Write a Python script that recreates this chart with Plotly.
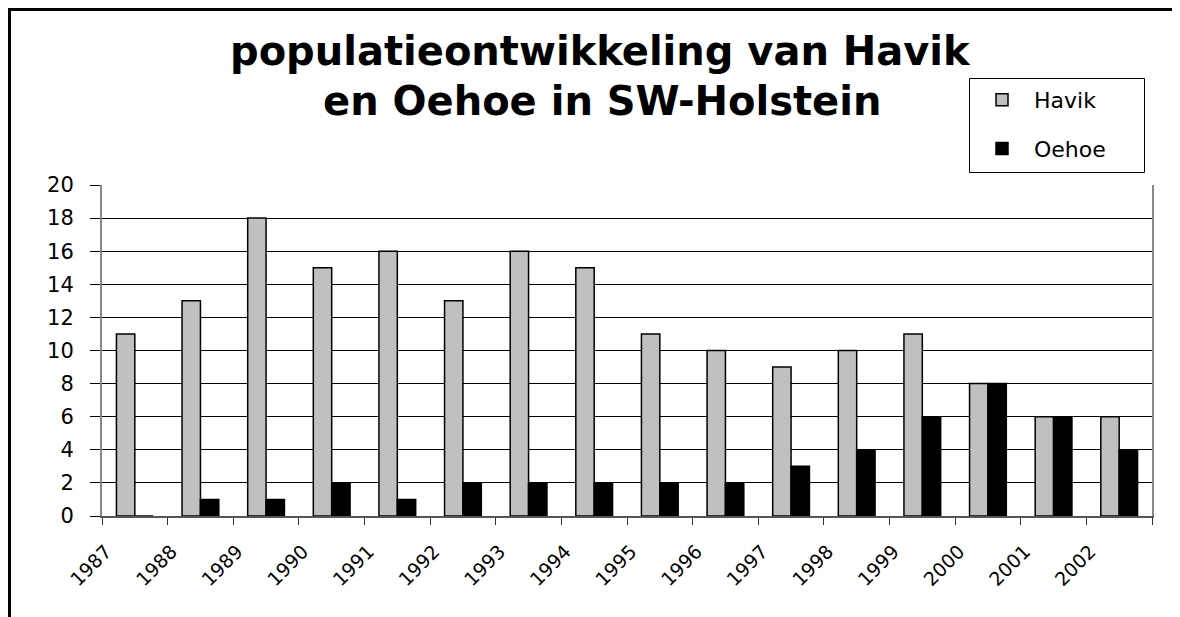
import plotly.graph_objects as go

years = ["1987", "1988", "1989", "1990", "1991", "1992", "1993", "1994",
         "1995", "1996", "1997", "1998", "1999", "2000", "2001", "2002"]
havik = [11, 13, 18, 15, 16, 13, 16, 15, 11, 10, 9, 10, 11, 8, 6, 6]
oehoe = [0, 1, 1, 2, 1, 2, 2, 2, 2, 2, 3, 4, 6, 8, 6, 4]

title_line1 = "populatieontwikkeling van Havik"
title_line2 = "en Oehoe in SW-Holstein"

pos = list(range(len(years)))
tick_pos = [p - 0.5 for p in pos] + [len(years) - 0.5]
tick_txt = years + [""]

FONT = "DejaVu Sans, Liberation Sans, Arial, sans-serif"

fig = go.Figure()
fig.add_trace(go.Bar(x=pos, y=havik, name="Havik", legendgroup="a",
                     marker=dict(color="#c0c0c0", line=dict(color="#000000", width=1.5))))
fig.add_trace(go.Bar(x=pos, y=oehoe, name="Oehoe", legendgroup="b",
                     marker=dict(color="#000000", line=dict(color="#000000", width=1.5))))

# page body has an 8px margin; figure is sized to end at the window edge
OFF = 8
W, H = 1180 - OFF, 617 - OFF
L, R, T, B = 102 - OFF, 28, 185 - OFF, 101
pw, ph = W - L - R, H - T - B

def px(x):  # screen x -> paper
    return (x - OFF - L) / pw

def py(y):  # screen y -> paper
    return (H - B - (y - OFF)) / ph

fig.update_layout(
    width=W, height=H,
    margin=dict(l=L, r=R, t=T, b=B),
    paper_bgcolor="white", plot_bgcolor="white",
    barmode="group", bargap=0.44, bargroupgap=0,
    font=dict(family=FONT, color="black"),
    showlegend=True,
    legend=dict(x=px(970), y=py(79), xanchor="left", yanchor="top",
                borderwidth=0, bgcolor="rgba(0,0,0,0)",
                font=dict(size=22, family=FONT),
                itemwidth=54,
                traceorder="grouped", tracegroupgap=17),
    xaxis=dict(range=[-0.5, len(years) - 0.5], tickmode="array",
               tickvals=tick_pos, ticktext=tick_txt, tickangle=-45,
               ticks="outside", ticklen=7, tickcolor="#333333", tickwidth=1,
               showgrid=False, zeroline=False,
               showline=True, linecolor="#555555", linewidth=2,
               ticklabelstandoff=8, ticklabelshift=4,
               tickfont=dict(size=19, family=FONT)),
    yaxis=dict(range=[0, 20], tickvals=list(range(0, 21, 2)),
               ticks="outside", ticklen=10, tickcolor="black", tickwidth=1,
               showgrid=True, gridcolor="black", gridwidth=1,
               zeroline=False,
               showline=True, linecolor="#888888", linewidth=2, mirror=True,
               ticklabelstandoff=12,
               tickfont=dict(size=21, family=FONT)),
    annotations=[
        dict(text="<b>" + title_line1 + "</b>", xref="paper", yref="paper",
             x=px(600), y=py(51), xanchor="center", yanchor="middle",
             showarrow=False, font=dict(size=40, family=FONT)),
        dict(text="<b>" + title_line2 + "</b>", xref="paper", yref="paper",
             x=px(602), y=py(101), xanchor="center", yanchor="middle",
             showarrow=False, font=dict(size=40, family=FONT)),
    ],
    shapes=[
        # outer chart frame (right/bottom edges fall outside the picture)
        dict(type="line", xref="paper", yref="paper",
             x0=px(8), x1=px(1200), y0=py(9.5), y1=py(9.5),
             line=dict(color="black", width=3)),
        dict(type="line", xref="paper", yref="paper",
             x0=px(9.5), x1=px(9.5), y0=py(8), y1=py(640),
             line=dict(color="black", width=3)),
        # legend box
        dict(type="rect", xref="paper", yref="paper",
             x0=px(969.5), x1=px(1144.5), y0=py(78.5), y1=py(172.5),
             line=dict(color="black", width=1), fillcolor="rgba(0,0,0,0)"),
    ],
)

fig.write_html("out.html")
